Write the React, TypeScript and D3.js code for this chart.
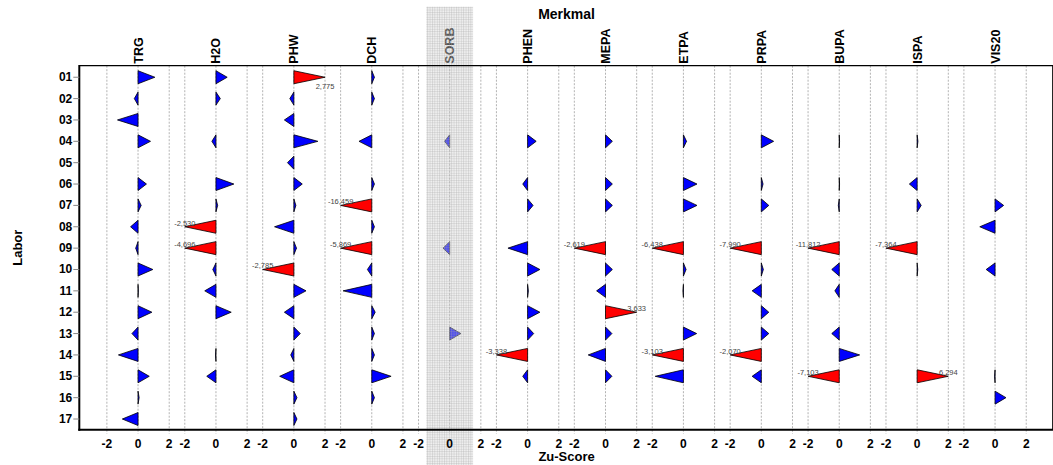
import React, { useEffect } from "react";
import * as d3 from "d3";

const labs = ["01","02","03","04","05","06","07","08","09","10","11","12","13","14","15","16","17"];
const merkmale = ["TRG","H2O","PHW","DCH","SORB","PHEN","MEPA","ETPA","PRPA","BUPA","ISPA","VIS20"];
const shadedMerkmal = "SORB";
const tickValues = [-2, 0, 2];

const TRG = [1.08, -0.24, -1.32, 0.80, null, 0.54, 0.20, -0.48, -0.15, 0.95, 0.02, 0.89, -0.39, -1.26, 0.72, 0.07, -1.01];
const H2O = [0.72, 0.28, null, -0.26, null, 1.15, 0.11, -2.530, -4.696, -0.20, -0.72, 0.98, null, -0.03, -0.59, null, null];
const PHW = [2.775, -0.26, -0.61, 1.54, -0.41, 0.54, 0.13, -1.24, 0.17, -2.785, 0.78, -0.61, 0.41, -0.20, -0.91, 0.20, 0.20];
const DCH = [0.17, 0.17, null, -0.82, null, 0.17, -16.459, 0.17, -5.869, -0.28, -1.84, 0.22, 0.17, 0.17, 1.24, 0.17, null];
const SORB = [null, null, null, -0.33, null, null, null, null, -0.43, null, null, null, 0.72, null, null, null, null];
const PHEN = [null, null, null, 0.55, null, -0.31, 0.35, null, -1.26, 0.79, 0.05, 0.79, 0.39, -3.338, -0.31, null, null];
const MEPA = [null, null, null, 0.44, null, 0.44, 0.44, null, -2.619, 0.44, -0.57, 3.633, 0.41, -1.11, 0.41, null, null];
const ETPA = [null, null, null, 0.20, null, 0.87, 0.87, null, -6.438, 0.17, -0.03, null, 0.85, -3.103, -1.81, null, null];
const PRPA = [null, null, null, 0.79, null, 0.11, 0.48, null, -7.990, 0.13, -0.59, 0.48, 0.48, -2.070, -0.59, null, null];
const BUPA = [null, null, null, 0.02, null, 0.02, -0.06, null, -11.812, -0.48, -0.28, null, -0.48, 1.31, -7.103, null, null];
const ISPA = [null, null, null, 0.05, null, -0.50, 0.26, null, -7.364, 0.04, null, null, null, null, 6.294, null, null];
const VIS20 = [null, null, null, null, null, null, 0.55, -0.98, null, -0.57, null, null, null, null, -0.03, 0.70, null];

const series: (number | null)[][] = [TRG, H2O, PHW, DCH, SORB, PHEN, MEPA, ETPA, PRPA, BUPA, ISPA, VIS20];

const FONT = "'Liberation Sans', Arial, Helvetica, sans-serif";
const W = 1053, H = 465;
const PANEL = 5; // units between panel zeros
const LIMIT = 2;

export default function App() {
  useEffect(() => {
    document.body.style.margin = "0";
    document.body.style.overflow = "hidden";
  }, []);

  const x = d3.scaleLinear().domain([-3.77, (merkmale.length - 1) * PANEL + 3.77]).range([79.3, 1053.8]);
  const y = d3.scaleLinear().domain([0.46, 17.5]).range([65.7, 429.7]);
  const top = y(0.46), bottom = y(17.5), left = x.range()[0], right = x.range()[1];
  const halfH = 6.5;
  const fmt = (v: number) => d3.format(".3f")(v).replace(".", ",").replace("\u2212", "-");
  const sIdx = merkmale.indexOf(shadedMerkmal);

  return (
    <svg width={W} height={H} style={{ position: "absolute", left: 0, top: 0, background: "#fff" }} fontFamily={FONT}>
      <defs>
        <pattern id="mesh" width="2.4" height="2.4" patternUnits="userSpaceOnUse">
          <rect width="2.4" height="2.4" fill="rgba(215,215,215,0.35)" />
          <rect width="0.9" height="2.4" fill="rgba(165,165,165,0.35)" />
          <rect width="2.4" height="0.9" fill="rgba(165,165,165,0.3)" />
        </pattern>
      </defs>
      {/* grid lines */}
      {merkmale.map((m, i) =>
        tickValues.map((t) => (
          <line key={m + t} x1={x(i * PANEL + t)} x2={x(i * PANEL + t)} y1={top} y2={bottom + 4}
            stroke="#aaa" strokeWidth={0.9} strokeDasharray="2,1.5" />
        ))
      )}
      {/* triangles */}
      {series.map((vals, i) =>
        vals.map((v, r) => {
          if (v === null) return null;
          const row = r + 1;
          const x0 = x(i * PANEL);
          const clamped = Math.max(-LIMIT, Math.min(LIMIT, v));
          const xt = x(i * PANEL + clamped);
          const yc = y(row);
          const over = Math.abs(v) > LIMIT;
          const path = d3.path();
          path.moveTo(x0, yc - halfH);
          path.lineTo(xt, yc);
          path.lineTo(x0, yc + halfH);
          path.closePath();
          return (
            <g key={i + "-" + r}>
              <path d={path.toString()} fill={over ? "#ff0000" : "#0000ff"} stroke="#000" strokeWidth={0.8} strokeLinejoin="miter" />
              {over && (
                <text x={xt} y={row === 1 ? yc + 12 : yc - 1} textAnchor="middle" fontSize={7.5} fill="#444">
                  {fmt(v)}
                </text>
              )}
            </g>
          );
        })
      )}
      {/* panel labels */}
      {merkmale.map((m, i) => (
        <text key={m} transform={`translate(${x(i * PANEL) + 0.5},${top - 2}) rotate(-90)`} fontSize={12.5}
          fontWeight="bold" dominantBaseline="central" fill="#000">{m}</text>
      ))}
      {/* shaded panel */}
      <rect x={x(sIdx * PANEL - 1.5)} y={6.7} width={x(1.5) - x(-1.5)} height={H - 6.7} fill="url(#mesh)" />
      {/* frame */}
      <line x1={left} x2={right} y1={top} y2={top} stroke="#000" strokeWidth={1.3} />
      <line x1={right - 1} x2={right - 1} y1={top} y2={bottom} stroke="#000" strokeWidth={1.3} />
      <line x1={left} x2={left} y1={top - 0.6} y2={bottom + 1} stroke="#000" strokeWidth={2} />
      <line x1={left - 1} x2={right} y1={bottom} y2={bottom} stroke="#000" strokeWidth={2} />
      {/* y axis */}
      {labs.map((l, r) => (
        <g key={l}>
          <line x1={left - 6} x2={left} y1={y(r + 1)} y2={y(r + 1)} stroke="#888" strokeWidth={1} />
          <text x={left - 7} y={y(r + 1)} textAnchor="end" dominantBaseline="central" fontSize={12} fontWeight="bold">{l}</text>
        </g>
      ))}
      {/* x axis labels */}
      {merkmale.map((m, i) =>
        tickValues.map((t) => (
          <text key={m + "l" + t} x={x(i * PANEL + t)} y={448} textAnchor="middle" fontSize={12} fontWeight="bold">{String(t)}</text>
        ))
      )}
      <text x={(left + right) / 2} y={19} textAnchor="middle" fontSize={14} fontWeight="bold">Merkmal</text>
      <text x={(left + right) / 2} y={461} textAnchor="middle" fontSize={13} fontWeight="bold">Zu-Score</text>
      <text transform={`translate(17.7,${(top + bottom) / 2}) rotate(-90)`} textAnchor="middle" dominantBaseline="central"
        fontSize={13} fontWeight="bold">Labor</text>
    </svg>
  );
}
